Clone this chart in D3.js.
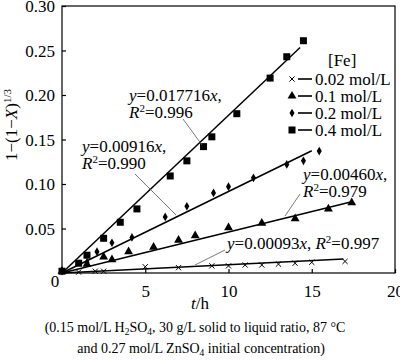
<!DOCTYPE html>
<html><head><meta charset="utf-8">
<script src="https://cdn.jsdelivr.net/npm/d3@7/dist/d3.min.js"></script>
<style>body{margin:0;background:#fff}svg{display:block}text{font-family:"Liberation Serif","Times New Roman",serif;fill:#000}</style>
</head><body>
<script>
const xTicks = [5, 10, 15, 20];
const yTicks = [0.05, 0.10, 0.15, 0.20, 0.25, 0.30];
const seriesNames = ["0.02 mol/L", "0.1 mol/L", "0.2 mol/L", "0.4 mol/L"];
const slopes = [0.00093, 0.00460, 0.00916, 0.017716];
const fitEnds = [16.9, 17.4, 15.0, 14.3];
const fe002 = [[0,0.002],[1,0.001],[2,0.002],[2.5,0.002],[5,0.007],[7,0.006],[9,0.008],[10,0.008],[11,0.009],[12,0.009],[13,0.010],[14,0.011],[15,0.012],[17,0.013]];
const fe01 = [[0,0.002],[1.5,0.010],[2.5,0.018],[3,0.015],[4,0.024],[5.5,0.029],[7,0.037],[8,0.042],[10,0.051],[12,0.056],[14,0.061],[16,0.072],[17.4,0.079]];
const fe02 = [[0,0.002],[1.5,0.012],[2.1,0.024],[3,0.034],[4.2,0.040],[6.2,0.063],[7.5,0.075],[9.1,0.090],[10,0.097],[11.5,0.107],[13.5,0.122],[14.5,0.126],[15.45,0.137]];
const fe04 = [[0,0.002],[1,0.011],[1.5,0.020],[2.5,0.039],[3.5,0.057],[4.5,0.072],[6.5,0.109],[7.5,0.126],[8.5,0.142],[9,0.153],[10.5,0.179],[12.5,0.219],[13.5,0.243],[14.5,0.261]];
const series = [fe002, fe01, fe02, fe04];
const eqs = ["0.00093x", "0.00460x", "0.00916x", "0.017716x"];
const r2s = ["0.997", "0.979", "0.990", "0.996"];

const W = 400, H = 361;
const svg = d3.select("body").append("svg").attr("width", W).attr("height", H);
const x = d3.scaleLinear().domain([0, 20]).range([62, 395]);
const y = d3.scaleLinear().domain([0, 0.30]).range([273, 6]);
const FS = 17;

// frame
svg.append("rect").attr("x", x(0)).attr("y", y(0.30)).attr("width", x(20) - x(0)).attr("height", y(0) - y(0.30))
  .attr("fill", "none").attr("stroke", "#000").attr("stroke-width", 1.2);

// axes with inward ticks
const xa = svg.append("g").attr("transform", `translate(0,${y(0)})`)
  .call(d3.axisBottom(x).tickValues(xTicks).tickSizeInner(-4).tickSizeOuter(0).tickPadding(8).tickFormat(d3.format("d")));
const ya = svg.append("g").attr("transform", `translate(${x(0)},0)`)
  .call(d3.axisLeft(y).tickValues(yTicks).tickSizeInner(-4).tickSizeOuter(0).tickPadding(7).tickFormat(d3.format(".2f")));
[xa, ya].forEach(g => {
  g.select(".domain").remove();
  g.selectAll("line").attr("stroke", "#000").attr("stroke-width", 1.2);
  g.selectAll("text").attr("font-size", FS).attr("font-family", '"Liberation Serif",serif').attr("fill", "#000");
});
xa.selectAll("text").attr("dy", "0.95em");
ya.selectAll("text").attr("dy", "0.35em");
svg.append("text").attr("x", 55).attr("y", 287).attr("text-anchor", "middle").attr("font-size", FS).text("0");

// fit lines
slopes.forEach((s, i) => {
  svg.append("line").attr("x1", x(0)).attr("y1", y(0)).attr("x2", x(fitEnds[i])).attr("y2", y(s * fitEnds[i]))
    .attr("stroke", "#000").attr("stroke-width", 1.5);
});

// markers
function marker(g, type, cx, cy) {
  if (type === 0) {
    const r = 2.6;
    g.append("path").attr("d", `M${cx-r},${cy-r}L${cx+r},${cy+r}M${cx-r},${cy+r}L${cx+r},${cy-r}`).attr("stroke", "#000").attr("stroke-width", 1).attr("fill", "none");
  } else if (type === 1) {
    g.append("path").attr("d", d3.symbol(d3.symbolTriangle, 34)()).attr("transform", `translate(${cx},${cy})`).attr("fill", "#000");
  } else if (type === 2) {
    g.append("path").attr("d", d3.symbol(d3.symbolDiamond, 22)()).attr("transform", `translate(${cx},${cy})`).attr("fill", "#000");
  } else {
    g.append("rect").attr("x", cx - 3.5).attr("y", cy - 3.5).attr("width", 7).attr("height", 7).attr("fill", "#000");
  }
}
const mg = svg.append("g");
series.forEach((data, i) => data.forEach(d => marker(mg, i, x(d[0]), y(d[1]))));

// annotations
function eqText(tx, ty, eq, r2, oneLine) {
  const t = svg.append("text").attr("x", tx).attr("y", ty).attr("font-size", FS);
  t.append("tspan").attr("font-style", "italic").text("y");
  t.append("tspan").text("=" + eq.slice(0, -1));
  t.append("tspan").attr("font-style", "italic").text("x");
  t.append("tspan").text(",");
  let t2 = t;
  if (oneLine) {
    t.append("tspan").text(" ");
  } else {
    t2 = svg.append("text").attr("x", tx).attr("y", ty + 17).attr("font-size", FS);
  }
  t2.append("tspan").attr("font-style", "italic").text("R");
  t2.append("tspan").attr("font-size", 11).attr("dy", -6).text("2");
  t2.append("tspan").attr("dy", 6).text("=" + r2);
}
eqText(129, 101, eqs[3], r2s[3], false);
eqText(82, 152, eqs[2], r2s[2], false);
eqText(303, 180, eqs[1], r2s[1], false);
eqText(227, 249, eqs[0], r2s[0], true);

const leaders = [[183, 119, 202, 145], [135, 174, 176, 215], [300, 194, 285, 216], [225, 250, 195, 265]];
leaders.forEach(l => svg.append("line").attr("x1", l[0]).attr("y1", l[1]).attr("x2", l[2]).attr("y2", l[3])
  .attr("stroke", "#555").attr("stroke-width", 0.8));

// legend
svg.append("text").attr("x", 328).attr("y", 66).attr("font-size", FS).text("[Fe]");
seriesNames.forEach((n, i) => {
  const cy = 79 + i * 17;
  marker(svg, i, 292, cy);
  svg.append("line").attr("x1", 298).attr("x2", 312).attr("y1", cy).attr("y2", cy).attr("stroke", "#000").attr("stroke-width", 1.6);
  svg.append("text").attr("x", 315).attr("y", cy + 6).attr("font-size", FS).text(n);
});

// axis titles
const yl = svg.append("text").attr("transform", "translate(17,125) rotate(-90)").attr("text-anchor", "middle").attr("font-size", FS);
yl.append("tspan").text("1−(1−");
yl.append("tspan").attr("font-style", "italic").text("X");
yl.append("tspan").text(")");
yl.append("tspan").attr("font-size", 11).attr("dy", -6).text("1/3");

const xl = svg.append("text").attr("x", 200).attr("y", 309).attr("text-anchor", "middle").attr("font-size", FS);
xl.append("tspan").attr("font-style", "italic").text("t");
xl.append("tspan").text("/h");

// caption
const c1 = svg.append("text").attr("x", 195).attr("y", 332).attr("text-anchor", "middle").attr("font-size", 14);
c1.append("tspan").text("(0.15 mol/L H");
c1.append("tspan").attr("font-size", 9.5).attr("dy", 3).text("2");
c1.append("tspan").attr("dy", -3).text("SO");
c1.append("tspan").attr("font-size", 9.5).attr("dy", 3).text("4");
c1.append("tspan").attr("dy", -3).text(", 30 g/L solid to liquid ratio, 87 °C");
const c2 = svg.append("text").attr("x", 201).attr("y", 353).attr("text-anchor", "middle").attr("font-size", 14);
c2.append("tspan").text("and 0.27 mol/L ZnSO");
c2.append("tspan").attr("font-size", 9.5).attr("dy", 3).text("4");
c2.append("tspan").attr("dy", -3).text(" initial concentration)");
</script>
</body></html>
